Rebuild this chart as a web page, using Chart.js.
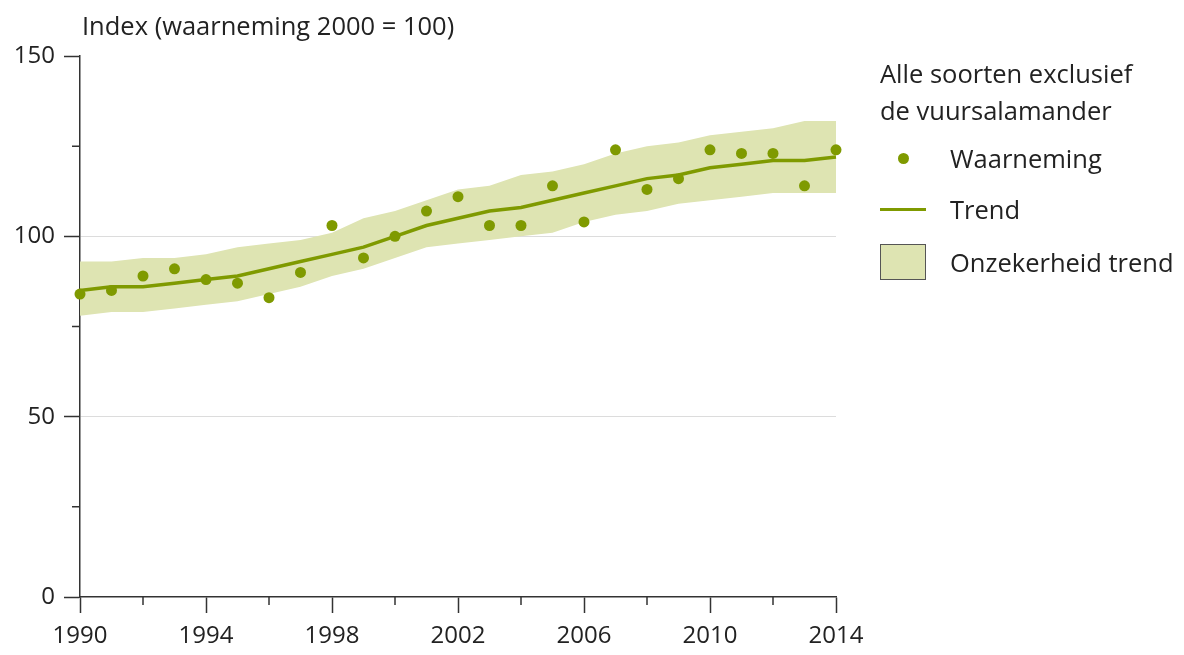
<!DOCTYPE html>
<html>
<head>
<meta charset="utf-8">
<script src="https://cdn.jsdelivr.net/npm/chart.js@4.4.1/dist/chart.umd.min.js"></script>
<style>
  body { margin: 0; background: #fff; }
  #wrap { position: relative; width: 1184px; height: 655px; font-family: "Open Sans", Lato, sans-serif; color: #222; }
  #titel { position: absolute; left: 82px; top: 8px; font-size: 25.5px; }
  #legende { position: absolute; left: 880px; top: 55px; font-size: 25.5px; line-height: 37px; }
  .rij { display: flex; align-items: center; height: 51px; }
  .symbool { width: 46px; margin-right: 24px; display: flex; justify-content: center; align-items: center; }
  .stip { width: 11px; height: 11px; border-radius: 50%; background: #7f9a00; }
  .lijn { width: 46px; height: 3px; background: #7f9a00; }
  .vlak { width: 44px; height: 34px; background: #dee4b2; border: 1px solid #555; }
</style>
</head>
<body>
<div id="wrap">
  <canvas id="grafiek" width="1184" height="655"></canvas>
  <div id="titel">Index (waarneming 2000 = 100)</div>
  <div id="legende">
    <div>Alle soorten exclusief<br>de vuursalamander</div>
    <div class="rij" style="margin-top:4px"><div class="symbool"><div class="stip"></div></div>Waarneming</div>
    <div class="rij"><div class="symbool"><div class="lijn"></div></div>Trend</div>
    <div class="rij" style="height:54px"><div class="symbool"><div class="vlak"></div></div>Onzekerheid trend</div>
  </div>
</div>
<script>
var jaren = [1990,1991,1992,1993,1994,1995,1996,1997,1998,1999,2000,2001,2002,2003,2004,2005,2006,2007,2008,2009,2010,2011,2012,2013,2014];
var waarneming = [84,85,89,91,88,87,83,90,103,94,100,107,111,103,103,114,104,124,113,116,124,123,123,114,124];
var trend = [85,86,86,87,88,89,91,93,95,97,100,103,105,107,108,110,112,114,116,117,119,120,121,121,122];
var bovengrens = [93,93,94,94,95,97,98,99,101,105,107,110,113,114,117,118,120,123,125,126,128,129,130,132,132];
var ondergrens = [78,79,79,80,81,82,84,86,89,91,94,97,98,99,100,101,104,106,107,109,110,111,112,112,112];
var xLabels = [1990,1994,1998,2002,2006,2010,2014];
var xKleineStreepjes = [1992,1996,2000,2004,2008,2012];
var yLabels = [0,50,100,150];
var yKleineStreepjes = [25,75,125];

function punten(waarden){
    return jaren.map(function(j, i){ return {x: j, y: waarden[i]}; });
}

var groen = '#7f9a00';
var band = '#dee4b2';
var as = '#333';

// kleine streepjes op de assen
var kleineStreepjes = {
    id: 'kleineStreepjes',
    afterDraw: function(chart){
        var ctx = chart.ctx;
        var x = chart.scales.x;
        var y = chart.scales.y;
        ctx.save();
        ctx.strokeStyle = as;
        ctx.lineWidth = 1.5;
        ctx.beginPath();
        xKleineStreepjes.forEach(function(j){
            var px = x.getPixelForValue(j);
            ctx.moveTo(px, y.bottom);
            ctx.lineTo(px, y.bottom + 8);
        });
        yKleineStreepjes.forEach(function(v){
            var py = y.getPixelForValue(v);
            ctx.moveTo(x.left - 8, py);
            ctx.lineTo(x.left, py);
        });
        ctx.stroke();
        ctx.restore();
    }
};

new Chart(document.getElementById('grafiek'), {
    type: 'line',
    data: {
        datasets: [
            {
                label: 'Waarneming',
                data: punten(waarneming),
                showLine: false,
                pointRadius: 5.5,
                pointBackgroundColor: groen,
                pointBorderWidth: 0,
                clip: false,
                order: 0
            },
            {
                label: 'Trend',
                data: punten(trend),
                borderColor: groen,
                borderWidth: 3.5,
                pointRadius: 0,
                tension: 0,
                fill: false,
                clip: false,
                order: 1
            },
            {
                label: 'ondergrens',
                data: punten(ondergrens),
                borderWidth: 0,
                borderColor: 'rgba(0,0,0,0)',
                pointRadius: 0,
                fill: false,
                order: 3
            },
            {
                label: 'Onzekerheid trend',
                data: punten(bovengrens),
                borderWidth: 0,
                borderColor: 'rgba(0,0,0,0)',
                backgroundColor: band,
                pointRadius: 0,
                fill: '-1',
                order: 2
            }
        ]
    },
    options: {
        responsive: false,
        animation: false,
        layout: { padding: { left: 0, right: 348, top: 56, bottom: 0 } },
        plugins: {
            legend: { display: false },
            tooltip: { enabled: false }
        },
        scales: {
            x: {
                type: 'linear',
                min: 1990,
                max: 2014,
                afterBuildTicks: function(scale){
                    scale.ticks = xLabels.map(function(v){ return {value: v}; });
                },
                afterFit: function(scale){ scale.height = 58; },
                border: { color: as, width: 1.5 },
                grid: { drawOnChartArea: false, tickLength: 16, tickColor: as, tickWidth: 1.5 },
                ticks: {
                    padding: 9,
                    color: '#222',
                    maxRotation: 0,
                    font: { family: 'Open Sans', size: 24 },
                    callback: function(v){ return String(v); }
                }
            },
            y: {
                min: 0,
                max: 150,
                afterBuildTicks: function(scale){
                    scale.ticks = yLabels.map(function(v){ return {value: v}; });
                },
                afterFit: function(scale){ scale.width = 80; },
                border: { color: as, width: 1.5 },
                grid: {
                    tickLength: 16,
                    tickColor: as,
                    tickWidth: 1.5,
                    color: function(c){
                        return (c.tick && (c.tick.value == 50 || c.tick.value == 100)) ? '#dcdcdc' : 'rgba(0,0,0,0)';
                    }
                },
                ticks: {
                    padding: 9,
                    color: '#222',
                    font: { family: 'Open Sans', size: 24 }
                }
            }
        }
    },
    plugins: [kleineStreepjes]
});
</script>
</body>
</html>
